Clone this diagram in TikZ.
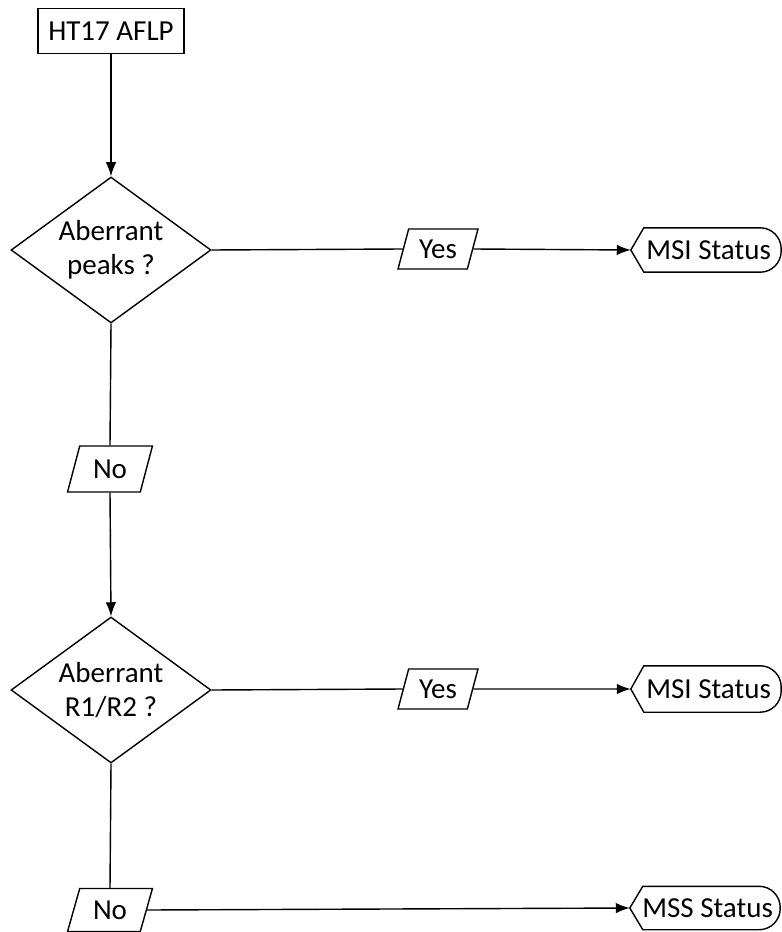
\documentclass[tikz,border=0pt]{standalone}
\usepackage{fontspec}
\setmainfont{Carlito}
\usetikzlibrary{shapes.geometric, arrows.meta, calc}

\begin{document}
\begin{tikzpicture}[x=0.02cm, y=-0.02cm, >={Latex[length=8pt,width=6pt]},
    every node/.style={font=\fontsize{16.5}{19.5}\selectfont, line width=0.8pt},
    startbox/.style={draw, rectangle, minimum width=2.92cm, minimum height=0.9cm, inner sep=0},
    decision/.style={draw, diamond, aspect=1.38, minimum width=4cm, minimum height=2.92cm,
        inner sep=0, align=center},
    answer/.style={draw, trapezium, trapezium left angle=70, trapezium right angle=110,
        trapezium stretches=true, minimum width=1.6cm, minimum height=0.8cm, inner sep=0},
    status/.style={minimum width=2.98cm, minimum height=0.86cm, inner sep=0}]

    % Bounding box of the picture
    \useasboundingbox (0,0) rectangle (781,932);

    % Start and the two questions
    \node[startbox] (start) at (111,31) {HT17 AFLP};
    \node[decision] (peaks) at (111,250) {Aberrant\\ peaks ?};
    \node[decision] (ratio) at (111,690) {Aberrant\\ R1/R2 ?};

    % Answers
    \node[answer] (yes1) at (438,249) {Yes};
    \node[answer, minimum width=1.7cm, minimum height=0.92cm] (no1) at (110,469) {No};
    \node[answer] (yes2) at (438,689) {Yes};
    \node[answer, minimum width=1.7cm, minimum height=0.86cm] (no2) at (110,910) {No};

    % Status outcomes (pointed left end, round right end)
    \node[status] (msi1) at (706,250) {\hspace*{3pt}MSI Status};
    \node[status, minimum height=0.9cm] (msi2) at (706,689) {\hspace*{3pt}MSI Status};
    \node[status, minimum height=0.84cm] (mss) at (705,908) {\hspace*{3pt}MSS Status};
    \foreach \s in {msi1, msi2, mss}
        \draw[line width=0.8pt] (\s.west) -- ($(\s.north west)+(13,0)$)
            [rounded corners=12pt] -- (\s.north east) -- (\s.south east)
            [sharp corners] -- ($(\s.south west)+(13,0)$) -- cycle;

    % Connectors
    \draw[->, line width=0.8pt] (start) -- (peaks);
    \draw[line width=0.8pt] (peaks.east) -- (yes1.west);
    \draw[->, line width=0.8pt] (yes1.east) -- (msi1.west);
    \draw[line width=0.8pt] (peaks.south) -- (no1.north);
    \draw[->, line width=0.8pt] (no1.south) -- (ratio.north);
    \draw[line width=0.8pt] (ratio.east) -- (yes2.west);
    \draw[->, line width=0.8pt] (yes2.east) -- (msi2.west);
    \draw[line width=0.8pt] (ratio.south) -- (no2.north);
    \draw[->, line width=0.8pt] (no2.east) -- (mss.west);
\end{tikzpicture}
\end{document}
